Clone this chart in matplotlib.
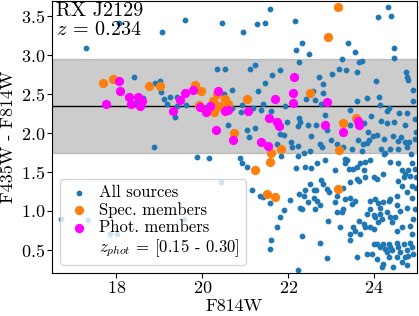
import numpy as np
import matplotlib
matplotlib.use("Agg")
import matplotlib.pyplot as plt

plt.rcParams["font.family"] = "serif"
plt.rcParams["font.serif"] = ["cmr10", "DejaVu Serif"]
plt.rcParams["mathtext.fontset"] = "cm"
plt.rcParams["axes.unicode_minus"] = False
plt.rcParams["axes.formatter.use_mathtext"] = True

# all sources (F814W, F435W - F814W)
all_mag = [
    17.30, 18.07, 19.07, 19.60, 20.47, 20.95, 21.28, 21.47, 21.57, 22.15, 22.33, 22.18, 22.49, 22.26,
    23.40, 23.56, 24.09, 24.33, 24.40, 24.47, 24.47,
    18.42, 18.49, 18.63, 18.91, 19.02, 19.05, 19.04, 19.10, 19.18, 19.24, 19.36, 19.42, 19.42, 19.63,
    20.35, 20.53, 20.51, 20.70, 20.70, 20.60, 20.93, 20.91, 18.88,
    21.12, 21.23, 21.62, 21.81, 22.73, 21.47, 21.29, 22.82, 22.59, 22.42, 22.62, 22.76, 21.41, 21.19,
    21.60, 21.93, 21.38, 21.97, 22.26, 22.28, 22.22, 22.46, 22.64, 21.04, 21.23, 21.80, 21.91, 22.53,
    21.10, 22.81, 22.86, 22.91,
    23.02, 23.19, 23.35, 23.26, 23.60, 23.65, 23.72, 24.05, 24.74, 24.77, 24.79, 24.91, 24.91,
    23.60, 23.84, 24.12, 24.14, 24.30, 24.35, 23.44, 23.93, 24.58, 24.77, 24.47, 24.72, 24.95, 24.16,
    24.30, 23.44, 23.77, 23.86, 23.98, 24.07, 24.23, 24.44, 24.63, 24.81, 24.98, 23.74, 23.88, 24.16,
    24.37, 24.56, 24.23, 24.86, 23.00, 22.74, 22.79, 23.28, 23.49, 23.63,
    21.75, 22.07, 22.23, 22.09, 22.37, 22.51,
    23.13, 23.83, 24.57, 24.72, 24.96, 24.26, 23.72, 24.76,
    20.92, 21.05, 21.83, 22.22, 22.68, 22.86, 22.19, 22.40, 22.53, 21.16, 21.35, 21.41, 21.57, 22.05,
    22.26, 22.36, 22.28, 22.33, 22.46, 22.51, 22.60, 22.65, 22.40, 22.77, 22.81, 22.91, 22.96, 22.60,
    22.68, 22.74, 22.63, 21.91, 21.81, 21.75, 21.60, 21.58, 22.32, 22.74, 22.94, 22.91, 22.22,
    19.88, 20.15, 20.88, 20.44, 19.58, 16.72, 17.33, 17.86, 18.02,
    23.33, 23.37, 23.10, 23.33, 23.41, 23.52, 23.60, 23.68, 23.79, 23.91, 23.76, 23.79, 23.99, 24.07,
    24.22, 24.38, 24.57, 24.65, 24.72, 24.80, 24.84, 24.88, 24.96, 24.99, 24.69, 24.57, 24.65, 24.88,
    24.99, 23.60, 23.64, 23.45, 23.29, 23.14, 23.10, 23.33, 23.45, 23.56, 23.48, 23.29, 23.14, 23.25,
    23.91, 24.03, 24.10, 24.14, 24.22, 24.34, 24.38, 24.53, 24.76, 24.88, 24.96, 24.76, 24.61, 24.53,
    23.91, 23.83, 23.99, 24.03, 24.14, 24.18, 24.30, 24.38, 24.49, 24.41, 24.10, 23.76, 23.64, 23.52,
    23.56, 23.45, 23.68, 23.79, 23.91, 23.99, 23.45, 23.60, 23.83, 23.95, 23.99, 24.07, 24.14, 24.22,
    24.26, 24.30, 24.34, 24.38, 24.41, 24.53, 24.57, 24.61, 24.69, 24.76, 24.84, 24.88, 24.92, 24.80,
    24.72, 24.65, 24.53, 24.34, 24.22, 24.07, 24.18, 24.45, 24.76, 24.88, 24.84, 24.65, 24.53, 23.21,
    24.92,
]
all_col = [
    3.09, 3.41, 3.30, 3.45, 3.41, 3.30, 3.40, 3.41, 3.59, 3.44, 3.16, 3.07, 3.02, 2.92,
    3.16, 3.04, 3.49, 3.62, 3.51, 3.09, 2.97,
    2.72, 2.40, 2.45, 2.65, 2.67, 2.62, 2.53, 2.44, 2.37, 2.46, 2.21, 2.46, 2.35, 2.36,
    2.82, 2.82, 2.50, 2.55, 2.32, 2.10, 2.36, 2.27, 1.82,
    2.83, 2.88, 2.75, 2.81, 2.72, 2.64, 2.54, 2.63, 2.54, 2.44, 2.42, 2.38, 2.37, 2.32,
    2.29, 2.35, 2.30, 2.14, 2.19, 2.14, 2.09, 2.10, 2.10, 2.04, 2.07, 1.99, 1.98, 1.96,
    1.95, 2.51, 2.23, 2.04,
    2.76, 2.83, 2.81, 2.95, 2.78, 2.91, 2.93, 2.67, 2.78, 2.72, 2.68, 2.56, 2.41,
    2.41, 2.45, 2.47, 2.36, 2.29, 2.32, 2.30, 2.22, 2.26, 2.26, 2.14, 2.11, 2.18, 2.15,
    2.13, 2.11, 2.13, 2.01, 1.96, 1.97, 1.93, 1.96, 1.95, 1.89, 2.01, 1.86, 1.91, 1.79,
    1.80, 1.80, 1.73, 1.73, 1.91, 1.86, 1.82, 1.82, 1.79, 1.91,
    1.86, 1.88, 1.83, 1.82, 1.75, 1.77,
    1.86, 1.87, 1.90, 1.88, 1.92, 1.75, 1.77, 1.82,
    1.62, 1.57, 1.70, 1.70, 1.62, 1.65, 1.55, 1.56, 1.55, 1.27, 1.19, 1.18, 1.10, 1.14,
    1.22, 1.19, 1.04, 1.02, 1.11, 1.35, 1.27, 1.27, 1.27, 1.40, 1.35, 1.28, 1.24, 1.17,
    1.13, 1.07, 1.02, 1.01, 0.92, 0.79, 0.62, 0.51, 0.67, 0.58, 0.87, 0.39, 0.24,
    1.69, 1.68, 1.68, 1.37, 0.90, 0.89, 0.88, 0.70, 0.70,
    1.67, 1.65, 1.53, 1.61, 1.54, 1.54, 1.57, 1.61, 1.63, 1.65, 1.52, 1.44, 1.44, 1.41,
    1.48, 1.63, 1.61, 1.52, 1.48, 1.52, 1.45, 1.61, 1.54, 1.43, 1.43, 1.39, 1.32, 1.32,
    1.30, 1.41, 1.39, 1.37, 1.30, 1.19, 1.11, 1.15, 1.17, 1.13, 1.09, 1.02, 0.98, 0.98,
    1.13, 1.15, 1.10, 1.04, 1.11, 1.13, 1.15, 1.19, 1.24, 1.17, 1.02, 1.04, 1.00, 1.07,
    1.02, 0.96, 0.95, 0.92, 0.96, 0.89, 0.98, 0.92, 0.92, 0.85, 0.85, 0.83, 0.87, 0.79,
    0.74, 0.70, 0.70, 0.79, 0.79, 0.77, 0.62, 0.40, 0.45, 0.45, 0.57, 0.57, 0.53, 0.57,
    0.51, 0.47, 0.57, 0.53, 0.49, 0.59, 0.53, 0.47, 0.57, 0.49, 0.59, 0.53, 0.44, 0.42,
    0.40, 0.34, 0.40, 0.40, 0.32, 0.38, 0.28, 0.28, 0.30, 0.70, 0.81, 0.79, 0.74, 0.79,
    0.89,
]

# spectroscopic members
spec_mag = [17.70, 17.93, 18.77, 19.02, 19.84, 19.98, 19.93, 20.24, 20.27, 20.34, 20.40, 20.53,
            20.61, 20.75, 21.05, 22.50, 22.94, 23.16, 23.58, 23.28, 23.19, 21.60, 21.83, 21.58,
            21.23, 21.50, 21.69, 23.16]
spec_col = [2.65, 2.69, 2.60, 2.60, 2.62, 2.54, 2.36, 2.41, 2.27, 2.50, 2.35, 2.44,
            2.37, 2.00, 2.44, 2.51, 3.23, 3.62, 2.20, 2.13, 1.78, 1.74, 1.79, 1.63,
            1.52, 1.22, 1.18, 1.28]

# photometric members, z_phot in [0.15 - 0.30]
phot_mag = [17.76, 18.05, 18.09, 18.30, 18.33, 18.51, 18.60, 18.56, 19.32, 19.49, 19.61, 19.78,
            19.94, 20.08, 20.17, 20.37, 20.53, 20.60, 20.31, 20.72, 21.07, 21.70, 22.14, 22.12,
            22.11, 22.91, 21.56, 21.75, 21.78, 22.86, 21.36, 21.54, 23.63, 23.65, 23.28]
phot_col = [2.38, 2.67, 2.54, 2.46, 2.37, 2.46, 2.41, 2.35, 2.29, 2.42, 2.51, 2.56,
            2.33, 2.27, 2.35, 2.54, 2.28, 2.30, 2.04, 1.91, 2.29, 2.44, 2.72, 2.51,
            2.39, 2.40, 2.19, 2.14, 2.09, 2.11, 1.89, 1.84, 2.16, 2.11, 2.02]

rs_center = 2.35
rs_width = 0.60


def main():
    fig = plt.figure(figsize=(4.19, 3.16), dpi=100)
    ax = fig.add_axes([0.124, 0.136, 0.871, 0.861])

    ax.axhspan(rs_center - rs_width, rs_center + rs_width, color="gray", alpha=0.4, zorder=0)
    ax.axhline(rs_center, color="k", lw=1.0, zorder=1)

    ax.scatter(all_mag, all_col, s=10, color="#1f77b4", label="All sources", zorder=2)
    ax.scatter(spec_mag, spec_col, s=32, color="#ff7f0e", label="Spec. members", zorder=3)
    ax.scatter(phot_mag, phot_col, s=32, color="#ff00ff", label="Phot. members", zorder=4)
    ax.plot([], [], ls="none", label=r"$z_{phot}$ = [0.15 - 0.30]")

    ax.text(0.01, 0.995, "RX J2129\n$z$ = 0.234", transform=ax.transAxes,
            ha="left", va="top", fontsize=14.5, linespacing=1.05)

    ax.set_xlim(16.5, 25.0)
    ax.set_ylim(0.2, 3.7)
    ax.set_xticks([18, 20, 22, 24])
    ax.set_yticks([0.5, 1.0, 1.5, 2.0, 2.5, 3.0, 3.5])
    ax.tick_params(labelsize=13, pad=1.5)
    ax.set_xlabel("F814W", fontsize=13, labelpad=2)
    ax.set_ylabel("F435W - F814W", fontsize=13, labelpad=3)

    ax.legend(loc="lower left", fontsize=12, handletextpad=0.4, borderpad=0.35,
              labelspacing=0.12, handlelength=1.6)

    fig.savefig("out.png", dpi=100)
    plt.close(fig)


if __name__ == "__main__":
    main()
